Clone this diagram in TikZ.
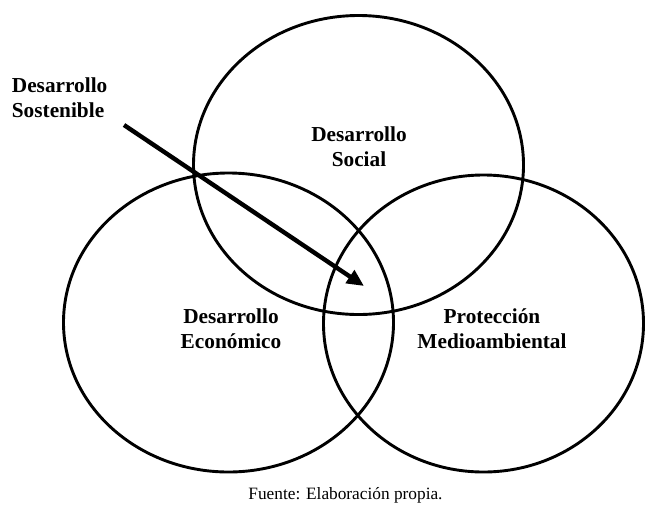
\documentclass[tikz,border=0pt]{standalone}
\usepackage{fontspec}
\setmainfont{Liberation Serif}
\usetikzlibrary{shapes.geometric,arrows.meta}
\tikzset{
  circ/.style={draw=black, line width=2.9pt, ellipse, inner sep=0pt},
  lbl/.style={align=center, inner sep=0pt, font=\bfseries\fontsize{21.3}{25.3}\selectfont},
  src/.style={inner sep=0pt, font=\fontsize{17.3}{20}\selectfont},
  arr/.style={line width=4.4pt, -{Triangle[length=17pt,width=15pt]}}
}
\begin{document}
\begin{tikzpicture}[x=1pt,y=-1pt]
\useasboundingbox (0,0) rectangle (645,507);
\node[circ, minimum width=330pt, minimum height=299pt] (social) at (358.5,165) {};
\node[circ, minimum width=330pt, minimum height=299pt] (econ) at (228.5,322.5) {};
\node[circ, minimum width=320pt, minimum height=297pt] (amb) at (483.5,323.5) {};
\node[lbl] (tsocial) at (359,147) {Desarrollo\\Social};
\node[lbl] (tecon) at (231,328.5) {Desarrollo\\Económico};
\node[lbl] (tamb) at (492,328.5) {Protección\\Medioambiental};
\node[lbl, align=left, anchor=west] (tsost) at (11.7,97.5) {Desarrollo\\Sostenible};
\coordinate (arrS) at (124,125);
\coordinate (arrE) at (364,286);
\draw[arr] (arrS) -- (arrE);
\node[src] (fuente) at (345.5,495) {Fuente: Elaboración propia.};
\end{tikzpicture}
\end{document}
